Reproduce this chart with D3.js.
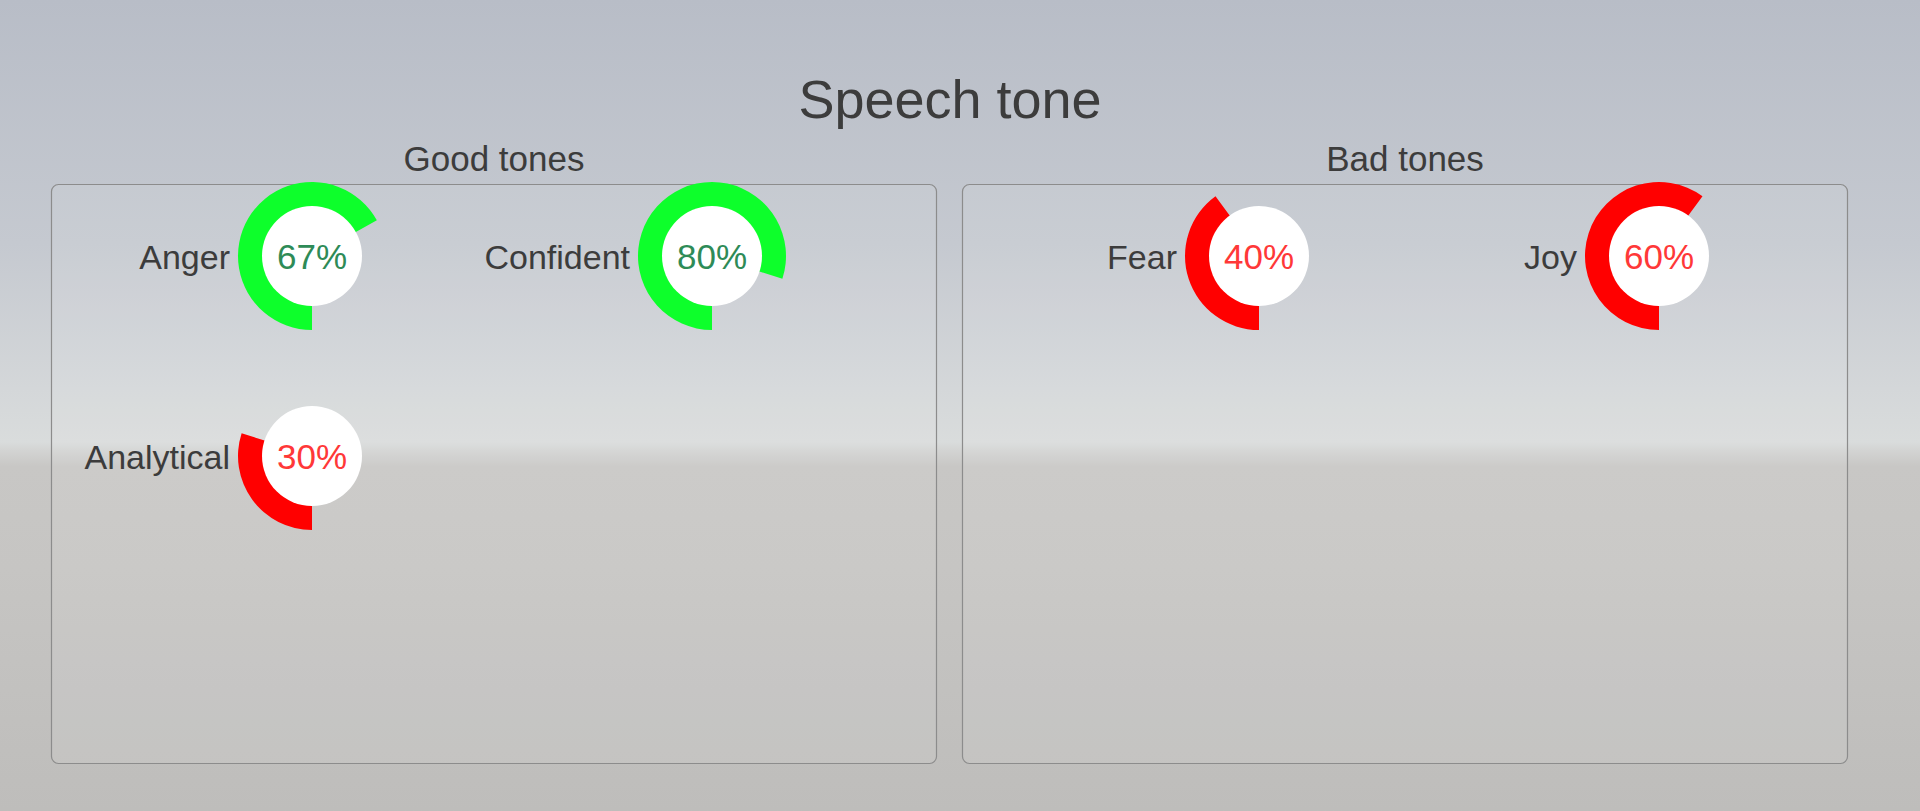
<!DOCTYPE html>
<html>
<head>
<meta charset="utf-8">
<script src="https://cdn.jsdelivr.net/npm/d3@7"></script>
<style>
  html, body { margin: 0; padding: 0; overflow: hidden; }
  svg { display: block; }
  text { font-family: "Liberation Sans", Arial, sans-serif; }
</style>
</head>
<body>
<script>
// ---- data ----
const chartTitle = "Speech tone";
const panelTitles = ["Good tones", "Bad tones"];
const goodTones = ["Anger", "Confident", "Analytical"];
const goodValues = [67, 80, 30];
const badTones = ["Fear", "Joy"];
const badValues = [40, 60];

// ---- layout / style ----
const W = 1920, H = 811;
const GREEN = "#0dff2b", RED = "#ff0000";
const GREEN_TXT = "#2e8b57", RED_TXT = "#ff3838";
const TXT = "#3c3c3c";

const svg = d3.select("body").append("svg").attr("width", W).attr("height", H);
const defs = svg.append("defs");
const bg = defs.append("linearGradient").attr("id", "bg").attr("x1", 0).attr("y1", 0).attr("x2", 0).attr("y2", 1);
[[0, "#b8bdc7"], [0.3, "#c5c9d0"], [0.48, "#d4d7d9"], [0.545, "#d9dcdc"], [0.555, "#d3d4d3"], [0.575, "#c8c7c5"], [0.7, "#c6c5c3"], [1, "#bebdbb"]]
  .forEach(([o, c]) => bg.append("stop").attr("offset", o).attr("stop-color", c));
svg.append("rect").attr("width", W).attr("height", H).attr("fill", "url(#bg)");

svg.append("text").attr("x", 950).attr("y", 118).attr("text-anchor", "middle")
  .attr("font-size", 54).attr("fill", TXT).text(chartTitle);

const panelX = d3.scaleOrdinal().domain(panelTitles).range([51, 962]);
const panelW = 886, panelTop = 184, panelH = 579;

const angle = d3.scaleLinear().domain([0, 100]).range([Math.PI, 3 * Math.PI]);
const colX = d3.scaleLinear().domain([0, 1]).range([0, 400]);
const rowY = d3.scaleLinear().domain([0, 1]).range([256, 456]);
const arc = d3.arc().innerRadius(49).outerRadius(74).startAngle(Math.PI);

const panels = [
  { title: panelTitles[0], names: goodTones, values: goodValues, good: true, first: 261 },
  { title: panelTitles[1], names: badTones, values: badValues, good: false, first: 297 }
];

panels.forEach(p => {
  const px = panelX(p.title);
  svg.append("rect").attr("x", px + 0.5).attr("y", panelTop + 0.5)
    .attr("width", panelW - 1).attr("height", panelH).attr("rx", 7)
    .attr("fill", "rgba(255,255,255,0.08)").attr("stroke", "#8c8c8c").attr("stroke-width", 1.2);
  svg.append("text").attr("x", px + panelW / 2).attr("y", 171).attr("text-anchor", "middle")
    .attr("font-size", 35).attr("fill", TXT).text(p.title);

  const g = svg.append("g").attr("transform", `translate(${px + p.first},0)`);
  const items = p.names.map((n, i) => ({ name: n, value: p.values[i], col: i % 2, row: Math.floor(i / 2) }));
  const it = g.selectAll("g.tone").data(items).join("g").attr("class", "tone")
    .attr("transform", d => `translate(${colX(d.col)},${rowY(d.row)})`);
  const ok = d => p.good && d.value >= 50;
  it.append("path").attr("d", d => arc.endAngle(angle(d.value))()).attr("fill", d => ok(d) ? GREEN : RED);
  it.append("circle").attr("r", 50).attr("fill", "#ffffff");
  it.append("text").attr("x", 0).attr("y", 13).attr("text-anchor", "middle").attr("font-size", 35)
    .attr("fill", d => ok(d) ? GREEN_TXT : RED_TXT).text(d => d.value + "%");
  it.append("text").attr("x", -82).attr("y", 13).attr("text-anchor", "end").attr("font-size", 34)
    .attr("fill", TXT).text(d => d.name);
});
</script>
</body>
</html>
